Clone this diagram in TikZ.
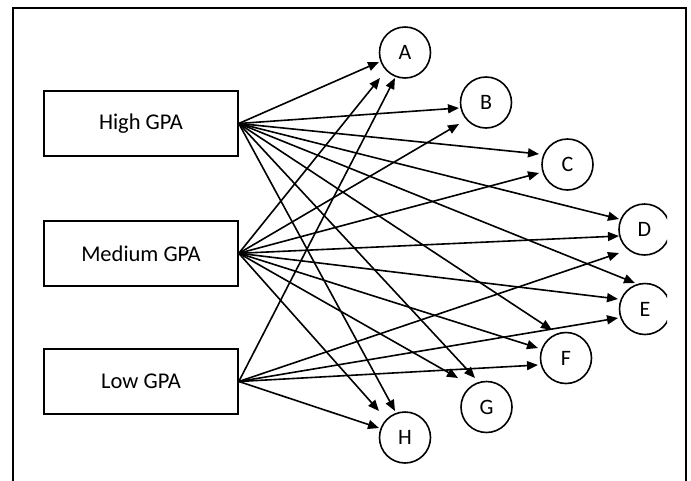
\documentclass[tikz,border=0pt]{standalone}
\usepackage{fontspec}
\setmainfont{Carlito}
\usetikzlibrary{arrows.meta}
\begin{document}
\begin{tikzpicture}[x=1pt,y=-1pt,
 box/.style={draw, line width=1.6pt, minimum width=194pt, minimum height=65pt, inner sep=0pt, font=\fontsize{22.5}{27}\selectfont},
 ball/.style={draw, circle, line width=1.6pt, minimum size=51pt, inner sep=0pt, font=\fontsize{22}{26}\selectfont},
 arr/.style={line width=1.6pt, -{Triangle[length=11pt,width=9pt]}},
 frame/.style={line width=2.2pt}]
\useasboundingbox (0,0) rectangle (691,480);
\draw[frame] (13,481) -- (13,8) -- (686,8) -- (686,481);

\node[box] (hi) at (141,123.5) {High GPA};
\node[box] (md) at (141,253.3) {Medium GPA};
\node[box] (lo) at (141,381.5) {Low GPA};

\node[ball] (A) at (405,52.5) {A};
\node[ball] (B) at (486,102.5) {B};
\node[ball] (C) at (567.5,164.5) {C};
\begin{scope}
\clip (0,0) rectangle (667,480);
\node[ball] (D) at (644.5,229.5) {D};
\node[ball] (E) at (645,309) {E};
\end{scope}
\node[ball] (F) at (566,358) {F};
\node[ball] (G) at (486.5,407) {G};
\node[ball] (H) at (405,437.5) {H};

% High GPA
\draw[arr] (hi.east) -- ([shift={(-26,9.5)}]A.center);
\draw[arr] (hi.east) -- ([shift={(-27,5.5)}]B.center);
\draw[arr] (hi.east) -- ([shift={(-28.5,-10.5)}]C.center);
\draw[arr] (hi.east) -- ([shift={(-25.5,-10.5)}]D.center);
\draw[arr] (hi.east) -- ([shift={(-10,-26)}]E.center);
\draw[arr] (hi.east) -- ([shift={(-14,-28)}]F.center);
\draw[arr] (hi.east) -- ([shift={(-11.5,-29)}]G.center);
\draw[arr] (hi.east) -- ([shift={(-10,-26.5)}]H.center);
% Medium GPA
\draw[arr] (md.east) -- ([shift={(-25,25.5)}]A.center);
\draw[arr] (md.east) -- ([shift={(-27,21.5)}]B.center);
\draw[arr] (md.east) -- ([shift={(-28.5,8.5)}]C.center);
\draw[arr] (md.east) -- ([shift={(-25.5,6.5)}]D.center);
\draw[arr] (md.east) -- ([shift={(-27,-10)}]E.center);
\draw[arr] (md.east) -- ([shift={(-28,-10)}]F.center);
\draw[arr] (md.east) -- ([shift={(-28.5,-29)}]G.center);
\draw[arr] (md.east) -- ([shift={(-26,-26.5)}]H.center);
% Low GPA
\draw[arr] (lo.east) -- ([shift={(-10,25.5)}]A.center);
\draw[arr] (lo.east) -- ([shift={(-25.5,23.5)}]D.center);
\draw[arr] (lo.east) -- ([shift={(-27,9)}]E.center);
\draw[arr] (lo.east) -- ([shift={(-28,7)}]F.center);
\draw[arr] (lo.east) -- ([shift={(-26,-9.5)}]H.center);
\end{tikzpicture}
\end{document}
